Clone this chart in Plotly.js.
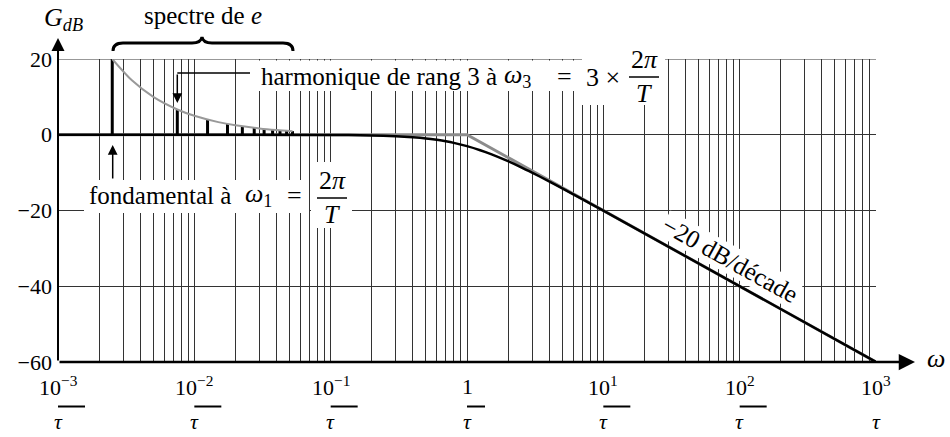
<!DOCTYPE html>
<html>
<head>
<meta charset="utf-8">
<script src="https://cdn.plot.ly/plotly-3.0.1.min.js"></script>
<style>
html, body { margin: 0; padding: 0; background: #fff; font-family: 'Liberation Serif', serif; }
#plot { width: 950px; height: 437px; position: relative; }
.warm { position: absolute; left: 0; top: 0; color: transparent; z-index: -1; font: 23px 'Liberation Serif'; }
</style>
</head>
<body>
<div class="warm" aria-hidden="true">ω <i>ω</i></div>
<div id="plot"></div>
<script>
// Spectrum of the square-wave input e: odd harmonics (pulsation in units of 1/tau)
const harmonicRank  = [1, 3, 5, 7, 9, 11, 13, 15, 17, 19, 21];
const harmonicOmega = [0.0025, 0.0075, 0.0125, 0.0175, 0.0225, 0.0275, 0.0325, 0.0375, 0.0425, 0.0475, 0.0525];
const harmonicLevel = [20, 6.67, 4, 2.86, 2.22, 1.82, 1.54, 1.33, 1.18, 1.05, 0.95];

// Envelope of the spectrum
const envelopeOmega = [0.0025, 0.0035, 0.005, 0.0075, 0.01, 0.015, 0.02, 0.03, 0.04, 0.0525];
const envelopeLevel = [20, 14.3, 10, 6.67, 5, 3.33, 2.5, 1.67, 1.25, 0.95];

// Gain of the first-order low-pass filter (dB)
const gainOmega = [0.001, 0.1, 0.2, 0.3, 0.4, 0.5, 0.6, 0.7, 0.8, 1, 1.25, 1.5, 2, 2.5, 3, 4, 5, 7, 10, 20, 1000];
const gainDb    = [0, -0.04, -0.17, -0.37, -0.65, -0.97, -1.34, -1.73, -2.15, -3.01, -4.09, -5.12, -6.99, -8.6, -10, -12.3, -14.15, -16.99, -20.04, -26.03, -60];

// Straight-line (asymptotic) diagram
const asymptoteOmega = [0.001, 1, 1000];
const asymptoteDb    = [0, 0, -60];

// Axis labels
const xTickValues = [0.001, 0.01, 0.1, 1, 10, 100, 1000];
const xTickNumer  = ['10<sup>−3</sup>', '10<sup>−2</sup>', '10<sup>−1</sup>', '1', '10<sup>1</sup>', '10<sup>2</sup>', '10<sup>3</sup>'];
const yTickValues = [-60, -40, -20, 0, 20];
const yTickText   = ['−60', '−40', '−20', '0', '20'];

const SERIF = 'Liberation Serif';
const FS = 22;   // axis labels
const FA = 25;   // running text
const FM = 26;   // math symbols

// plot area in page pixels
const L = 58, R = 876, T = 59, B = 362;
const W = R - L, H = B - T;
const px = x => (x - L) / W;
const py = y => (B - y) / H;

// spectral lines as vertical segments from 0 dB
const barX = [], barY = [];
harmonicOmega.forEach((w, i) => { barX.push(w, w, null); barY.push(0, harmonicLevel[i], null); });

const traces = [
  { x: asymptoteOmega, y: asymptoteDb, mode: 'lines', line: { color: '#8c8c8c', width: 3 }, cliponaxis: false, hoverinfo: 'skip' },
  { x: barX, y: barY, mode: 'lines', line: { color: '#000', width: 3 }, cliponaxis: false, hoverinfo: 'skip' },
  { x: envelopeOmega, y: envelopeLevel, mode: 'lines', line: { color: '#999', width: 2, shape: 'spline', smoothing: 0.8 }, cliponaxis: false, hoverinfo: 'skip' },
  { x: gainOmega, y: gainDb, mode: 'lines', line: { color: '#000', width: 2.5, shape: 'spline', smoothing: 0.6 }, cliponaxis: false, hoverinfo: 'skip' }
];

const txt = (text, x, y, size, extra) => Object.assign({
  text, x: px(x), y: py(y), xref: 'paper', yref: 'paper', showarrow: false,
  xanchor: 'center', yanchor: 'middle', font: { family: SERIF, size, color: '#000' }
}, extra || {});

const arrow = (x, y, ax, ay, w) => ({
  text: '', x: px(x), y: py(y), xref: 'paper', yref: 'paper', showarrow: true,
  ax, ay, axref: 'pixel', ayref: 'pixel', arrowhead: 2, arrowsize: 1.3, arrowwidth: w, arrowcolor: '#000', standoff: 0
});

const annotations = [
  txt('<i>G</i><sub><i>dB</i></sub>', 63, 19, FM),
  txt('spectre de <i>e</i>', 203, 16, FA),
  txt('harmonique de rang 3 à', 259, 76, FA, { xanchor: 'left' }),
  txt('<i>ω</i><sub>3</sub>', 502, 76, FM, { xanchor: 'left' }),
  txt('=', 564, 76, FM),
  txt('3 ×', 603, 77, FM),
  txt('2<i>π</i>', 644, 59, FM),
  txt('<i>T</i>', 644, 93, FM),
  txt('fondamental à', 87, 195, FA, { xanchor: 'left' }),
  txt('<i>ω</i><sub>1</sub>', 243, 195, FM, { xanchor: 'left' }),
  txt('=', 294, 195, FM),
  txt('2<i>π</i>', 332, 180, FM),
  txt('<i>T</i>', 332, 214, FM),
  txt('−20 dB/décade', 730, 259, FA, { textangle: 29.1, bgcolor: '#fff', borderpad: 0 }),
  txt('<i>ω</i>', 936, 358, FM),
  arrow(915, 362, -(915 - L), 0, 2.5),
  arrow(L, 38, 0, B - 38, 2),
  arrow(177.3, 103, 0, -30, 1.5),
  arrow(112.7, 145, 0, 35, 1.5)
];

xTickValues.forEach((v, i) => {
  annotations.push({ text: xTickNumer[i], x: Math.log10(v), y: py(386), xref: 'x', yref: 'paper', showarrow: false,
    xanchor: 'center', yanchor: 'middle', font: { family: SERIF, size: FS, color: '#000' } });
  annotations.push({ text: '<i>τ</i>', x: Math.log10(v), y: py(421), xref: 'x', yref: 'paper', showarrow: false,
    xanchor: 'center', yanchor: 'middle', font: { family: SERIF, size: FS, color: '#000' } });
});

const pathOf = pts => pts.map(p => typeof p === 'string' ? p : px(p[0]) + ',' + py(p[1])).join(' ');
const whiteBox = (x0, x1, y0, y1) => ({ type: 'rect', xref: 'paper', yref: 'paper', layer: 'above',
  x0: px(x0), x1: px(x1), y0: py(y0), y1: py(y1), fillcolor: '#fff', line: { width: 0 } });

const shapes = [
  // top grid line at 20 dB
  { type: 'line', xref: 'paper', yref: 'y', layer: 'below', x0: 0, x1: 1, y0: 20, y1: 20, line: { color: '#333', width: 1 } },
  // brace over the spectrum
  { type: 'path', xref: 'paper', yref: 'paper', layer: 'above', line: { color: '#000', width: 3 },
    path: pathOf(['M', [113, 51], 'Q', [113, 43], [123, 43], 'L', [192, 43], 'Q', [201, 43], [202, 37],
                  'Q', [203, 43], [212, 43], 'L', [283, 43], 'Q', [293, 43], [293, 51]]) },
  // leader towards the third harmonic
  { type: 'line', xref: 'paper', yref: 'paper', layer: 'above', x0: px(250), x1: px(177.3), y0: py(73), y1: py(73),
    line: { color: '#000', width: 1.5 } },
  // white backgrounds behind the labels
  whiteBox(256, 580, 60.5, 91),
  whiteBox(582, 665, 42, 105),
  whiteBox(84, 309, 180, 213),
  whiteBox(311, 352, 162, 228),
  // fraction bars 2π/T
  { type: 'line', xref: 'paper', yref: 'paper', layer: 'above', x0: px(629), x1: px(659), y0: py(77), y1: py(77),
    line: { color: '#000', width: 1.5 } },
  { type: 'line', xref: 'paper', yref: 'paper', layer: 'above', x0: px(317), x1: px(347), y0: py(198), y1: py(198),
    line: { color: '#000', width: 1.5 } }
];

xTickValues.forEach((v, i) => {
  const half = xTickNumer[i] === '1' ? 18 : 27;
  shapes.push({ type: 'line', xref: 'x', xsizemode: 'pixel', xanchor: v, x0: -half, x1: half,
    yref: 'paper', y0: py(406.5), y1: py(406.5), line: { color: '#000', width: 2 } });
});

const layout = {
  width: 950, height: 437,
  margin: { l: L, r: 950 - R, t: T, b: 437 - B, pad: 0 },
  paper_bgcolor: '#fff', plot_bgcolor: '#fff',
  showlegend: false,
  font: { family: SERIF, size: FS, color: '#000' },
  xaxis: {
    type: 'log', range: [-3, 3], dtick: 'D1', showticklabels: false, ticks: '',
    showgrid: true, gridcolor: '#333', gridwidth: 1, showline: false, zeroline: false, fixedrange: true
  },
  yaxis: {
    range: [-60, 20], tickvals: yTickValues, ticktext: yTickText, ticks: '', ticklabelstandoff: 5,
    showgrid: true, gridcolor: '#333', gridwidth: 1, showline: false, zeroline: false, fixedrange: true,
    tickfont: { family: SERIF, size: FS, color: '#000' }
  },
  annotations, shapes
};

Plotly.newPlot('plot', traces, layout, { displayModeBar: false });
</script>
</body>
</html>
